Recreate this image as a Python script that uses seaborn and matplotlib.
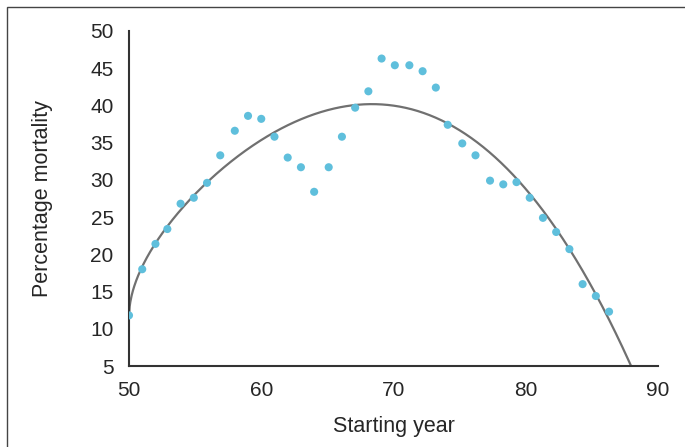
import numpy as np
import pandas as pd
import matplotlib
matplotlib.use("Agg")
import matplotlib.pyplot as plt
import seaborn as sns
from matplotlib.patches import Rectangle

# Data
years = [50.0, 51.0, 52.0, 52.9, 53.9, 54.9, 55.9, 56.9, 58.0, 59.0, 60.0, 61.0,
         62.0, 63.0, 64.0, 65.1, 66.1, 67.1, 68.1, 69.1, 70.1, 71.2, 72.2, 73.2,
         74.1, 75.2, 76.2, 77.3, 78.3, 79.3, 80.3, 81.3, 82.3, 83.3, 84.3, 85.3, 86.3]
mortality = [11.8, 18.0, 21.4, 23.4, 26.8, 27.6, 29.6, 33.3, 36.6, 38.6, 38.2, 35.8,
             33.0, 31.7, 28.4, 31.7, 35.8, 39.7, 41.9, 46.3, 45.4, 45.4, 44.6, 42.4,
             37.4, 34.9, 33.3, 29.9, 29.4, 29.7, 27.6, 24.9, 23.0, 20.7, 16.0, 14.4, 12.3]

# Trend curve positions
trend_x = [50.08, 50.83, 51.97, 52.97, 54.86, 57.0, 59.15, 59.9, 62.4, 64.95,
           68.2, 71.25, 74.0, 75.03, 79.06, 82.33, 85.1, 87.9]
trend_y = [13.2, 17.9, 21.7, 23.9, 27.7, 31.3, 34.0, 35.1, 37.8, 39.6,
           40.4, 39.6, 37.6, 36.7, 30.4, 23.3, 15.2, 5.4]

x_ticks = [50, 60, 70, 80, 90]
x_minor = [55, 65, 75, 85]
y_ticks = [5, 10, 15, 20, 25, 30, 35, 40, 45, 50]

df = pd.DataFrame({"Starting year": years, "Percentage mortality": mortality})

# Smooth trend: least-squares fit through the read curve positions
def basis(tt):
    return np.column_stack([np.ones_like(tt), np.sqrt(tt), tt, tt**2, tt**3])

t = np.array(trend_x) - 50.0
coef, *_ = np.linalg.lstsq(basis(t), np.array(trend_y), rcond=None)
tc = np.linspace(0, 40, 800)
yc = basis(tc) @ coef
curve = pd.DataFrame({"x": tc + 50.0, "y": yc})
curve = curve[curve["y"] >= 5]

sns.set_style("white")
plt.rcParams["font.family"] = ["Liberation Sans", "DejaVu Sans"]

fig = plt.figure(figsize=(6.85, 4.47), dpi=100)
ax = fig.add_axes([129/685, 1-366/447, (658-129)/685, (366-31)/447])

sns.lineplot(data=curve, x="x", y="y", ax=ax, color="#707070", linewidth=1.6,
             sort=False, zorder=2)
sns.scatterplot(data=df, x="Starting year", y="Percentage mortality", ax=ax,
                color="#5fbfdc", s=34, edgecolor="none", zorder=3)

ax.set_xlim(50, 90)
ax.set_ylim(5, 50)
ax.set_xticks(x_ticks)
ax.set_xticks(x_minor, minor=True)
ax.set_yticks(y_ticks)
ax.tick_params(axis="both", which="both", direction="out", color="#666666",
               width=1.0, labelsize=15, labelcolor="#262626")
ax.tick_params(axis="x", which="both", length=6.5, pad=4)
ax.tick_params(axis="y", length=7, pad=4)
for s in ["top", "right"]:
    ax.spines[s].set_visible(False)
for s in ["left", "bottom"]:
    ax.spines[s].set_color("#333333")
    ax.spines[s].set_linewidth(1.5)
ax.set_xlabel("Starting year", fontsize=15.5, color="#262626", labelpad=12)
ax.set_ylabel("Percentage mortality", fontsize=15.5, color="#262626", labelpad=27)

# frame around the figure (left and top edges visible)
fig.patches.append(Rectangle((7/685, -0.05), 1.2, 1 - 7/447 + 0.05,
                             transform=fig.transFigure, fill=False,
                             edgecolor="#444444", linewidth=1.0))

fig.savefig("out.png", dpi=100)
